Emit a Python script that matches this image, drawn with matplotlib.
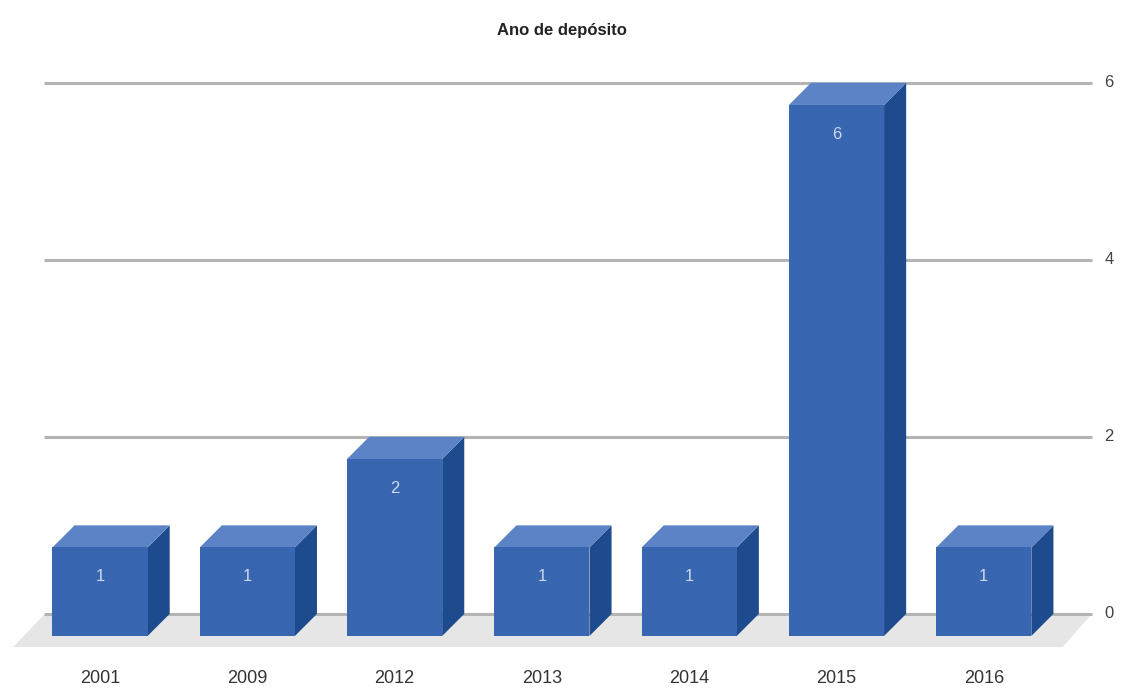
import matplotlib
matplotlib.use("Agg")
import matplotlib.pyplot as plt
from matplotlib.patches import Polygon

plt.rcParams["font.family"] = ["Liberation Sans", "DejaVu Sans"]

# deposits per year
years = ["2001", "2009", "2012", "2013", "2014", "2015", "2016"]
counts = [1, 1, 2, 1, 1, 6, 1]
yticks = [0, 2, 4, 6]

FRONT = "#3866b0"
TOP = "#5b83c5"
SIDE = "#1e4b8d"
FLOOR = "#e6e6e6"
GRID = "#b4b4b4"

half_w = 0.323   # half width of the front face, in category units
dx, dy = 0.15, 0.25  # depth offset of the back plane

fig = plt.figure(figsize=(11.24, 6.89), dpi=100)
ax = fig.add_axes([0, 0, 1, 1])
ax.set_xlim(-0.679, 6.952)
ax.set_ylim(-0.599, 7.186)
ax.axis("off")

# floor
ax.add_patch(Polygon([(-0.59, -0.124), (6.537, -0.124), (6.733, dy), (-0.373, dy)],
                     closed=True, facecolor=FLOOR, edgecolor="none", zorder=1))

# gridlines on the back wall, labels on the right
for t in yticks:
    ax.plot([-0.38, 6.735], [t + dy, t + dy], color=GRID, lw=2.2, zorder=2,
            solid_capstyle="butt")
    ax.text(6.82, t + dy, str(t), ha="left", va="center", fontsize=12, color="#444444")

# bars as simple boxes: front, top and right side faces
for i, (yr, v) in enumerate(zip(years, counts)):
    l, r = i - half_w, i + half_w
    ax.add_patch(Polygon([(r, 0), (r + dx, dy), (r + dx, v + dy), (r, v)],
                         closed=True, facecolor=SIDE, edgecolor="none", zorder=3))
    ax.add_patch(Polygon([(l, v), (r, v), (r + dx, v + dy), (l + dx, v + dy)],
                         closed=True, facecolor=TOP, edgecolor="none", zorder=3))
    ax.add_patch(Polygon([(l, 0), (r, 0), (r, v), (l, v)],
                         closed=True, facecolor=FRONT, edgecolor="none", zorder=4))
    ax.text(i, v - 0.33, str(v), ha="center", va="center", fontsize=12,
            color="#cdd8ee", zorder=5)
    ax.text(i, -0.475, yr, ha="center", va="center", fontsize=13, color="#333333")

ax.text(0.5, 0.956, "Ano de depósito", transform=ax.transAxes, ha="center",
        va="center", fontsize=12, fontweight="bold", color="#222222")

fig.savefig("out.png", dpi=100)
